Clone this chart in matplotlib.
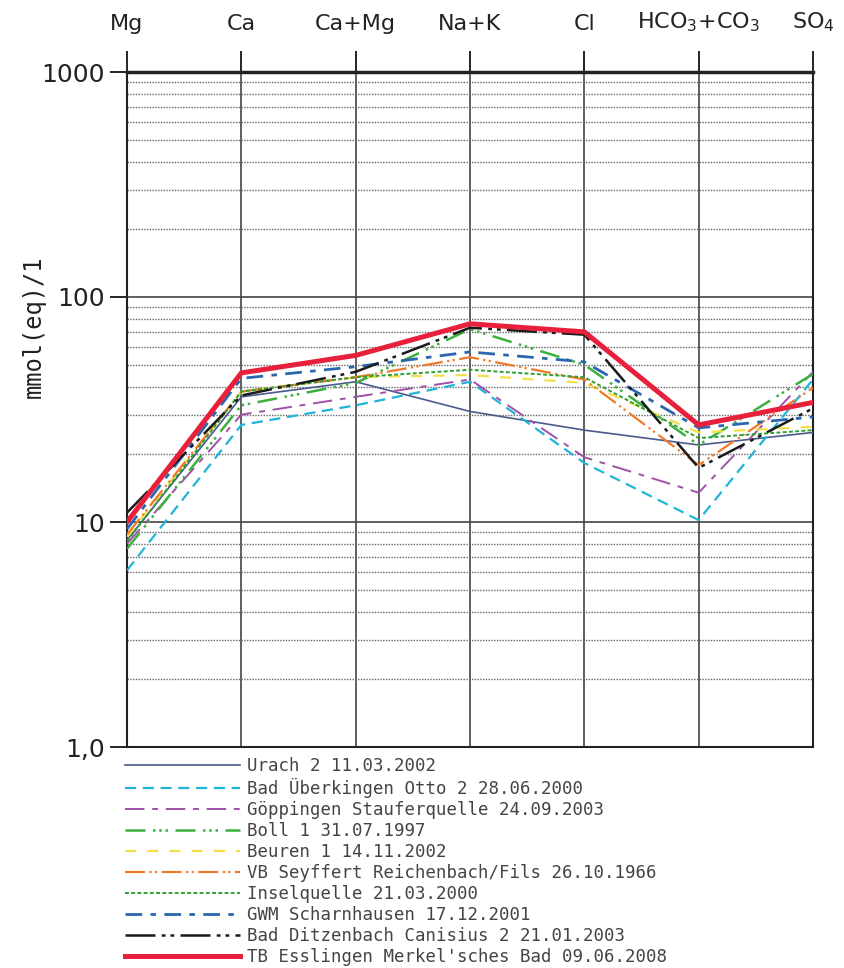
import matplotlib.pyplot as plt
from matplotlib.ticker import LogLocator, NullFormatter, FixedLocator

categories = ['Mg', 'Ca', 'Ca+Mg', 'Na+K', 'Cl', 'HCO$_3$+CO$_3$', 'SO$_4$']

# mmol(eq)/l per sample
urach = [8.3, 36, 42, 31, 25.6, 22, 25]
ueberkingen = [6.1, 27, 33, 42, 18.3, 10.2, 43]
goeppingen = [8.0, 30, 36, 43, 19.4, 13.5, 46.5]
boll = [7.6, 33, 41.5, 72, 50, 22, 45.5]
beuren = [8.6, 38, 44, 45, 41.5, 25, 26.5]
seyffert = [8.8, 38, 44, 54, 43, 17.9, 39.5]
insel = [8.2, 38, 44, 47.5, 44, 23.6, 25.6]
gwm = [9.3, 43.5, 49, 57, 51.5, 26.2, 29.3]
ditzenbach = [11, 36.5, 46.5, 73, 68, 17.4, 32]
esslingen = [10, 46, 55, 76, 70, 27, 34]

labels = ['Urach 2 11.03.2002',
          'Bad Überkingen Otto 2 28.06.2000',
          'Göppingen Stauferquelle 24.09.2003',
          'Boll 1 31.07.1997',
          'Beuren 1 14.11.2002',
          'VB Seyffert Reichenbach/Fils 26.10.1966',
          'Inselquelle 21.03.2000',
          'GWM Scharnhausen 17.12.2001',
          'Bad Ditzenbach Canisius 2 21.01.2003',
          "TB Esslingen Merkel'sches Bad 09.06.2008"]

series = [urach, ueberkingen, goeppingen, boll, beuren, seyffert, insel, gwm, ditzenbach, esslingen]

styles = [
    dict(color='#4a5a8c', lw=1.2, ls='-'),
    dict(color='#1fb4d8', lw=1.6, ls=(0, (5, 3))),
    dict(color='#a050a8', lw=1.4, ls=(0, (10, 4, 3, 4))),
    dict(color='#3cb03c', lw=1.8, ls=(0, (8, 3, 1, 1.5, 1, 1.5, 1, 3))),
    dict(color='#f2e04a', lw=1.6, ls=(0, (5, 5))),
    dict(color='#f07a28', lw=1.6, ls=(0, (9, 2, 1, 1.5, 1, 2))),
    dict(color='#2ea030', lw=1.4, ls=(0, (2, 1.2))),
    dict(color='#2a66b0', lw=2.0, ls=(0, (6, 3, 2, 3))),
    dict(color='#1a1a1a', lw=1.8, ls=(0, (12, 2.5, 1.5, 2, 1.5, 2.5))),
    dict(color='#e8203c', lw=3.6, ls='-'),
]

fig = plt.figure(figsize=(8.45, 9.68), dpi=100)
ax = fig.add_axes([127 / 845, 1 - 747 / 968, 686 / 845, 675 / 968])

x = list(range(len(categories)))
for vals, lab, st in zip(series, labels, styles):
    ax.plot(x, vals, label=lab, color=st['color'], lw=st['lw'], linestyle=st['ls'], zorder=3)

ax.set_yscale('log')
ax.set_ylim(1, 1000)
ax.set_xlim(0, len(categories) - 1)

ax.yaxis.set_major_locator(FixedLocator([1, 10, 100, 1000]))
ax.set_yticklabels(['1,0', '10', '100', '1000'], fontsize=18, color='#222222')
ax.yaxis.set_minor_locator(LogLocator(base=10, subs=range(2, 10)))
ax.yaxis.set_minor_formatter(NullFormatter())
ax.tick_params(axis='y', which='major', direction='out', length=12, width=1.2, pad=4)
ax.tick_params(axis='y', which='minor', length=0)

ax.xaxis.tick_top()
ax.set_xticks(x)
ax.set_xticklabels(categories, fontsize=16, color='#222222')
ax.tick_params(axis='x', direction='out', length=15, width=1.2, pad=12)

ax.grid(True, which='major', axis='y', color='#444444', lw=1.2, ls='-')
ax.grid(True, which='minor', axis='y', color='#666666', lw=1.0, ls=(0, (1, 1)))
ax.grid(True, which='major', axis='x', color='#444444', lw=1.2, ls='-')

for side in ['left', 'right', 'bottom']:
    ax.spines[side].set_linewidth(1.5)
    ax.spines[side].set_color('#222222')
ax.spines['top'].set_linewidth(2.5)
ax.spines['top'].set_color('#222222')

fig.text(34 / 845, 1 - 327 / 968, 'mmol(eq)/1', rotation=90, ha='center', va='center',
         fontsize=17, family='DejaVu Sans Mono', color='#222222')

fig.legend(loc='upper left', bbox_to_anchor=(125 / 845, 1 - 757 / 968), frameon=False,
           prop={'family': 'DejaVu Sans Mono', 'size': 12.5}, labelcolor='#444444',
           handlelength=6.6, handletextpad=0.45, labelspacing=0.17, borderpad=0,
           borderaxespad=0)

fig.savefig('out.png', dpi=100, facecolor='white')
